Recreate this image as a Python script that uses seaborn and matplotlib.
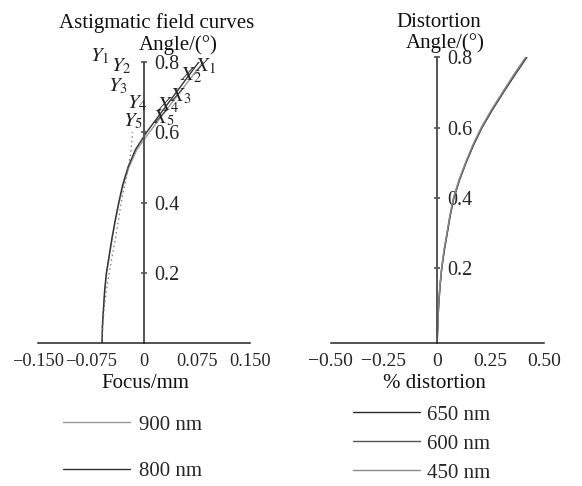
import numpy as np
import pandas as pd
import matplotlib
matplotlib.use("Agg")
import matplotlib.pyplot as plt
import seaborn as sns

# ---------------- data ----------------
# Astigmatic field curves (angle in degrees, focus in mm)
astig_angle = [0.0, 0.05, 0.1, 0.15, 0.2, 0.25, 0.3, 0.35, 0.4, 0.45, 0.5,
               0.55, 0.6, 0.65, 0.7, 0.75, 0.8]
x_800 = [-0.059, -0.0585, -0.057, -0.0555, -0.053, -0.049, -0.045, -0.0405,
         -0.0355, -0.030, -0.0225, -0.012, 0.004, 0.0225, 0.041, 0.0595, 0.078]
x_900 = [-0.059, -0.0585, -0.057, -0.055, -0.0525, -0.0485, -0.0445, -0.040,
         -0.035, -0.029, -0.021, -0.010, 0.008, 0.027, 0.046, 0.065, 0.084]
y_sag_angle = [0.0, 0.05, 0.1, 0.15, 0.2, 0.25, 0.3, 0.35, 0.4, 0.45, 0.5, 0.55, 0.6]
y_sag = [-0.059, -0.058, -0.056, -0.053, -0.049, -0.0445, -0.040, -0.036,
         -0.032, -0.027, -0.022, -0.018, -0.016]

astig_xticks = [-0.150, -0.075, 0, 0.075, 0.150]
astig_xticklabels = ["\u22120.150", "\u22120.075", "0", "0.075", "0.150"]
angle_ticks = [0.2, 0.4, 0.6, 0.8]
angle_ticklabels = ["0.2", "0.4", "0.6", "0.8"]

# field labels
y_labels = ["$Y_1$", "$Y_2$", "$Y_3$", "$Y_4$", "$Y_5$"]
y_label_x = [-0.076, -0.046, -0.050, -0.024, -0.029]
y_label_a = [0.800, 0.772, 0.715, 0.667, 0.616]
x_labels = ["$X_1$", "$X_2$", "$X_3$", "$X_4$", "$X_5$"]
x_label_x = [0.072, 0.051, 0.037, 0.018, 0.013]
x_label_a = [0.772, 0.748, 0.687, 0.663, 0.625]

# Distortion (percent)
dist_angle = [0.0, 0.05, 0.1, 0.15, 0.2, 0.25, 0.3, 0.35, 0.4, 0.45, 0.5,
              0.55, 0.6, 0.65, 0.7, 0.75, 0.8]
dist_650 = [0.0, 0.003, 0.007, 0.013, 0.021, 0.033, 0.047, 0.061, 0.078, 0.104,
            0.135, 0.170, 0.210, 0.258, 0.310, 0.364, 0.420]
dist_600 = [0.0, 0.003, 0.007, 0.013, 0.021, 0.032, 0.046, 0.060, 0.077, 0.103,
            0.134, 0.168, 0.208, 0.256, 0.308, 0.361, 0.417]
dist_450 = [0.0, 0.003, 0.006, 0.012, 0.020, 0.031, 0.045, 0.059, 0.076, 0.101,
            0.132, 0.166, 0.206, 0.253, 0.305, 0.358, 0.414]
dist_xticks = [-0.50, -0.25, 0, 0.25, 0.50]
dist_xticklabels = ["\u22120.50", "\u22120.25", "0", "0.25", "0.50"]

# ---------------- style ----------------
sns.set_style("white")
plt.rcParams["font.family"] = ["Liberation Serif", "DejaVu Serif"]
plt.rcParams["mathtext.fontset"] = "stix"
plt.rcParams["axes.unicode_minus"] = True

W, H = 582, 486
fig = plt.figure(figsize=(W / 100, H / 100), dpi=100)
fig.patch.set_facecolor("white")

FS = 15


def px_axes(left, right, y0, y1):
    # y0: pixel row of bottom, y1: pixel row of top
    return fig.add_axes([left / W, 1 - y0 / H, (right - left) / W, (y0 - y1) / H])


def style_axis(ax, xlim, ylim, xticks, xticklabels, xls):
    ax.set_xlim(*xlim)
    ax.set_ylim(*ylim)
    ax.set_facecolor("none")
    for s in ["top", "left"]:
        ax.spines[s].set_visible(False)
    ax.spines["right"].set_position(("data", 0))
    ax.spines["right"].set_bounds(ylim[0], 0.8)
    ax.spines["right"].set_color("#555555")
    ax.spines["right"].set_linewidth(1.4)
    ax.spines["bottom"].set_color("#222222")
    ax.spines["bottom"].set_linewidth(1.1)
    ax.yaxis.tick_right()
    ax.set_yticks(angle_ticks)
    ax.set_yticklabels(angle_ticklabels)
    ax.tick_params(axis="y", direction="inout", length=5, width=1.1,
                   color="#444444", pad=5, labelsize=FS - 0.5)
    ax.set_xticks(xticks)
    ax.set_xticklabels(xticklabels)
    ax.tick_params(axis="x", direction="out", length=4, width=1.1,
                   color="#222222", pad=3, labelsize=xls)
    ax.set_xlabel("")
    ax.set_ylabel("")
    ax.grid(False)


# ---------------- left: astigmatic field curves ----------------
ax1 = px_axes(37.7, 250.0, 343.4, 61.7)
df_x800 = pd.DataFrame({"focus": x_800, "angle": astig_angle})
df_x900 = pd.DataFrame({"focus": x_900, "angle": astig_angle})
df_ysag = pd.DataFrame({"focus": y_sag, "angle": y_sag_angle})
sns.lineplot(data=df_x900, x="focus", y="angle", sort=False, estimator=None,
             color="#9a9a9a", linewidth=0.8, ax=ax1, label="900 nm")
sns.lineplot(data=df_x800, x="focus", y="angle", sort=False, estimator=None,
             color="#333333", linewidth=0.8, ax=ax1, label="800 nm")
sns.lineplot(data=df_ysag, x="focus", y="angle", sort=False, estimator=None,
             color="#777777", linewidth=0.9, linestyle=(0, (1.2, 2.5)), ax=ax1)
style_axis(ax1, (-0.15, 0.15), (0, 0.8), astig_xticks, astig_xticklabels, 13.2)
for t, xx, aa in zip(y_labels, y_label_x, y_label_a):
    ax1.text(xx, aa, t, fontsize=FS, ha="left", va="baseline", color="#222222")
for t, xx, aa in zip(x_labels, x_label_x, x_label_a):
    ax1.text(xx, aa, t, fontsize=FS, ha="left", va="baseline", color="#222222")

h1, l1 = ax1.get_legend_handles_labels()
ax1.get_legend().remove()
for h in h1:
    h.set_linewidth(1.0)
fig.legend(h1, l1, loc="upper left", bbox_to_anchor=(63 / W, 1 - 415 / H),
           bbox_transform=fig.transFigure, frameon=False, fontsize=FS,
           handlelength=67 / 20.8, handletextpad=0.45, labelspacing=1.3,
           borderpad=0, borderaxespad=0)

# ---------------- right: distortion ----------------
ax2 = px_axes(330.7, 543.9, 343.3, 57.3)
df_650 = pd.DataFrame({"dist": dist_650, "angle": dist_angle})
df_600 = pd.DataFrame({"dist": dist_600, "angle": dist_angle})
df_450 = pd.DataFrame({"dist": dist_450, "angle": dist_angle})
sns.lineplot(data=df_650, x="dist", y="angle", sort=False, estimator=None,
             color="#2a2a2a", linewidth=0.8, ax=ax2, label="650 nm")
sns.lineplot(data=df_600, x="dist", y="angle", sort=False, estimator=None,
             color="#555555", linewidth=0.8, ax=ax2, label="600 nm")
sns.lineplot(data=df_450, x="dist", y="angle", sort=False, estimator=None,
             color="#8a8a8a", linewidth=0.8, ax=ax2, label="450 nm")
style_axis(ax2, (-0.5, 0.5), (-0.0142, 0.8), dist_xticks, dist_xticklabels, 14)
h2, l2 = ax2.get_legend_handles_labels()
ax2.get_legend().remove()
for h in h2:
    h.set_linewidth(1.0)
fig.legend(h2, l2, loc="upper left", bbox_to_anchor=(353 / W, 1 - 405 / H),
           bbox_transform=fig.transFigure, frameon=False, fontsize=FS,
           handlelength=67 / 20.8, handletextpad=0.35, labelspacing=0.45,
           borderpad=0, borderaxespad=0)

# ---------------- titles and axis names ----------------
def ftext(x, y, s, ha="center"):
    fig.text(x / W, 1 - y / H, s, fontsize=FS, ha=ha, va="baseline", color="#111111")

ftext(157, 28, "Astigmatic field curves")
ftext(178, 50, "Angle/(\u00b0)")
ftext(439, 27, "Distortion")
ftext(445, 48, "Angle/(\u00b0)")
ftext(145, 388, "Focus/mm")
ftext(434, 388, "% distortion")

fig.savefig("out.png", dpi=100, facecolor="white")
